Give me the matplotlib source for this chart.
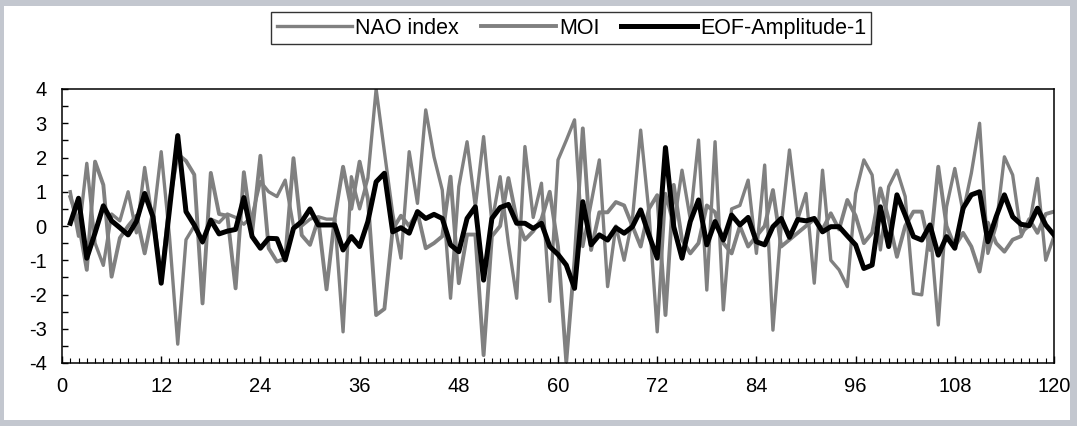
import numpy as np
import matplotlib.pyplot as plt
from matplotlib.patches import Rectangle
from matplotlib.ticker import MultipleLocator

plt.rcParams['font.family'] = ['Liberation Sans', 'DejaVu Sans']
plt.rcParams['axes.unicode_minus'] = False

# months 1..120
months = np.arange(1, 121)

nao = [1.0, -0.3, 1.83, -0.5, -1.15, 0.35, 0.15, 1.0, -0.2, 1.71,
       0.1, 2.17, -0.3, -3.45, -0.4, 0.0, -0.5, 0.2, 0.1, 0.35,
       0.25, 0.05, 0.3, 1.3, 1.0, 0.86, 1.34, 0.0, 0.0, 0.2,
       0.27, 0.2, 0.2, -3.09, 1.44, 0.5, 1.4, 4.0, 2.17, 0.37,
       -0.94, 2.17, 0.66, 3.39, 2.02, 1.05, -2.11, 1.15, 2.46, 0.56,
       2.61, 0.1, 1.44, -0.5, -2.11, 2.32, 0.25, 1.25, -2.2, 1.93,
       2.5, 3.1, -0.6, 0.66, 1.93, -1.77, 0.0, -1.0, 0.2, 2.8,
       0.4, -3.09, 0.95, 0.0, 1.63, 0.2, 2.51, -1.87, 2.46, -2.45,
       0.5, 0.6, 1.34, -0.8, 1.78, -3.04, 0.0, 2.22, 0.2, 0.95,
       -1.67, 1.63, -1.0, -1.28, -1.77, 0.95, 1.93, 1.49, -0.7, 1.15,
       1.63, 0.86, -1.97, -2.01, 0.0, -2.89, 0.56, 1.68, 0.4, 1.54,
       3.0, -0.8, 0.0, 2.02, 1.49, -0.2, 0.0, 1.39, -1.0, -0.3]

moi = [0.85, 0.1, -1.28, 1.88, 1.2, -1.48, -0.35, 0.0, 0.3, -0.8,
       0.4, -1.6, 0.7, 2.1, 1.9, 1.5, -2.26, 1.55, 0.35, 0.3,
       -1.82, 1.57, -0.2, 2.05, -0.65, -1.04, -0.95, 1.98, -0.27, -0.55,
       0.2, -1.85, 0.25, 1.73, 0.5, 1.88, 0.8, -2.6, -2.42, -0.1,
       0.3, 0.0, 0.4, -0.65, -0.5, -0.3, 1.44, -1.67, -0.25, -0.25,
       -3.77, -0.3, 0.0, 1.4, 0.2, -0.4, -0.15, 0.2, 1.0, -0.6,
       -3.96, -1.0, 2.85, -0.7, 0.4, 0.4, 0.7, 0.6, 0.0, -0.6,
       0.5, 0.9, -2.6, 1.2, -0.4, -0.8, -0.5, 0.6, 0.4, -0.5,
       -0.8, 0.0, -0.6, -0.3, 0.0, 1.05, -0.6, -0.4, -0.2, 0.0,
       0.2, -0.1, 0.37, -0.1, 0.76, 0.3, -0.5, -0.2, 1.1, 0.2,
       -0.9, 0.0, 0.42, 0.42, -0.7, 1.73, 0.0, -0.6, -0.2, -0.6,
       -1.33, 0.1, -0.5, -0.75, -0.4, -0.3, 0.2, -0.2, 0.35, 0.42]

eof1 = [0.08, 0.81, -0.94, -0.2, 0.59, 0.15, -0.05, -0.26, 0.13, 0.95,
        0.27, -1.67, 0.48, 2.64, 0.42, 0.03, -0.46, 0.17, -0.23, -0.15,
        -0.1, 0.83, -0.31, -0.65, -0.36, -0.37, -0.99, -0.07, 0.13, 0.5,
        0.03, 0.03, 0.03, -0.7, -0.31, -0.6, 0.13, 1.29, 1.54, -0.17,
        -0.05, -0.21, 0.42, 0.22, 0.34, 0.22, -0.55, -0.75, 0.22, 0.56,
        -1.58, 0.22, 0.54, 0.63, 0.08, 0.08, -0.07, 0.08, -0.6, -0.83,
        -1.14, -1.82, 0.71, -0.55, -0.26, -0.41, -0.05, -0.21, -0.02, 0.47,
        -0.26, -0.94, 2.29, -0.02, -0.94, 0.13, 0.76, -0.55, 0.13, -0.41,
        0.32, 0.03, 0.25, -0.46, -0.55, -0.02, 0.22, -0.33, 0.19, 0.15,
        0.22, -0.17, -0.02, -0.02, -0.29, -0.55, -1.24, -1.14, 0.56, -0.6,
        0.91, 0.32, -0.31, -0.41, 0.03, -0.85, -0.31, -0.65, 0.52, 0.91,
        1.0, -0.46, 0.27, 0.91, 0.27, 0.05, 0.01, 0.52, 0.03, -0.26]

fig = plt.figure(figsize=(10.77, 4.26), dpi=100, facecolor='#c3c7cf')
# white chart area inside the grey frame, kept behind the axes
fig.patches.append(Rectangle((4 / 1077, 6 / 426), 1066 / 1077, 414 / 426,
                             transform=fig.transFigure, facecolor='white',
                             edgecolor='none', zorder=-10))

ax = fig.add_axes([62 / 1077, 1 - 363 / 426, 992 / 1077, 274 / 426])
ax.plot(months, nao, color='#808080', lw=2.4, label='NAO index')
ax.plot(months, moi, color='#808080', lw=2.8, label='MOI')
ax.plot(months, eof1, color='black', lw=3.6, label='EOF-Amplitude-1')

ax.set_xlim(0, 120)
ax.set_ylim(-4, 4)
ax.xaxis.set_major_locator(MultipleLocator(12))
ax.xaxis.set_minor_locator(MultipleLocator(1))
ax.yaxis.set_major_locator(MultipleLocator(1))
ax.yaxis.set_minor_locator(MultipleLocator(0.5))
ax.tick_params(axis='x', which='major', direction='in', length=5, width=1,
               labelsize=14.5, pad=10)
ax.tick_params(axis='x', which='minor', direction='in', length=3.5, width=0.8)
ax.tick_params(axis='y', which='both', direction='in', length=4.5, width=1,
               labelsize=14.5, pad=11)
for s in ax.spines.values():
    s.set_linewidth(1.1)

leg = fig.legend(loc='center', bbox_to_anchor=(0.5306, 0.934), ncol=3,
                 fontsize=15.5, frameon=True, fancybox=False, edgecolor='black',
                 handlelength=3.5, handletextpad=0.15, columnspacing=1.0,
                 borderpad=0.25, borderaxespad=0)
leg.get_frame().set_linewidth(1.0)

fig.savefig('out.png', dpi=100, facecolor=fig.get_facecolor())
